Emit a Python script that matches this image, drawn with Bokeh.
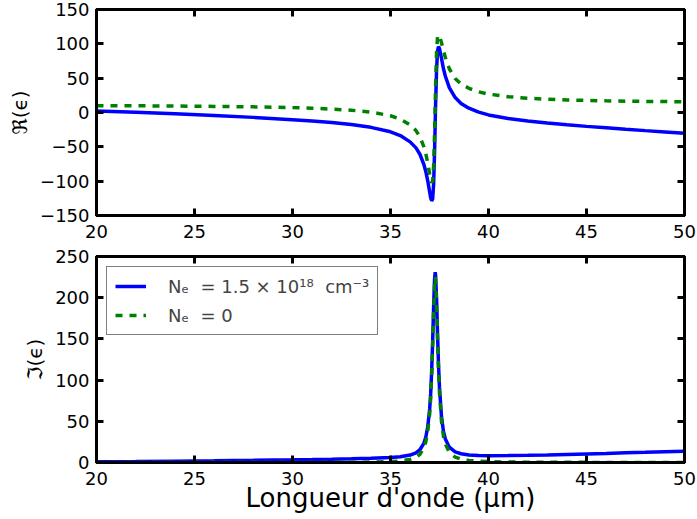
from bokeh.plotting import figure
from bokeh.layouts import column
from bokeh.models import (Range1d, LinearAxis, SingleIntervalTicker, CustomJSTickFormatter,
                          Legend, LegendItem)
from bokeh.embed import file_html
from bokeh.resources import INLINE

# wavelength (µm)
wavelength = [20, 22, 24, 26, 28, 30, 31, 32, 33, 34, 35, 35.5, 36, 36.3, 36.5, 36.7, 36.8, 36.9,
              37.0, 37.05, 37.1, 37.15, 37.2, 37.25, 37.28, 37.3, 37.35, 37.4, 37.45, 37.5,
              37.6, 37.7, 37.8, 38.0, 38.3, 38.6, 39.0, 39.5, 40, 41, 42, 43, 44, 45, 46, 47, 48, 49, 50]

# Re(eps), doped (Ne = 1.5e18 cm^-3)
re_doped = [2.2, 0.3, -1.9, -4.3, -7.1, -10.4, -12.4, -14.7, -17.6, -21.6, -28.1, -33.6, -42.8, -51.5,
            -60.8, -75.4, -85.8, -99.5, -116.2, -124.3, -128.5, -126.2, -104.3, -55.6, -15.6, 10.4,
            62.0, 90.0, 96.0, 93.0, 79.0, 64.0, 52.8, 36.2, 21.7, 13.2, 6.3, 0.5, -3.5, -8.7, -12.4,
            -15.4, -17.9, -20.2, -22.3, -24.4, -26.4, -28.3, -30.3]
# Re(eps), undoped (Ne = 0)
re_undoped = [10.0, 9.8, 9.4, 8.9, 8.2, 7.1, 6.2, 5.0, 3.3, 0.6, -4.7, -9.5, -18.0, -26.3, -35.4,
              -49.7, -60.0, -73.6, -90.1, -98.1, -102.0, -99.9, -77.9, -29.2, 10.9, 36.9, 88.0,
              110.0, 113.0, 111.0, 102.0, 90.0, 80.0, 63.7, 49.6, 41.5, 35.2, 30.1, 26.8, 23.0,
              20.8, 19.3, 18.3, 17.6, 17.0, 16.5, 16.2, 15.9, 15.6]
# Im(eps), doped
im_doped = [0.95, 1.27, 1.64, 2.08, 2.60, 3.22, 3.57, 3.96, 4.43, 5.04, 6.05, 7.03, 9.05, 11.8, 15.5,
            23.3, 30.6, 43.3, 65.3, 83.8, 110.8, 146.8, 188.8, 222.8, 231.0, 227.8, 198.8, 155.8,
            118.8, 90.8, 56.1, 38.1, 28.5, 18.6, 12.9, 10.6, 9.2, 8.5, 8.3, 8.4, 8.7, 9.2, 9.8,
            10.4, 11.0, 11.7, 12.3, 13.1, 13.8]
# Im(eps), undoped
im_undoped = [0.01, 0.01, 0.01, 0.02, 0.04, 0.08, 0.12, 0.17, 0.28, 0.51, 1.12, 1.89, 3.70, 6.34,
              9.96, 17.6, 24.9, 37.6, 59.5, 78.0, 105.0, 141.0, 183.0, 217.0, 225.0, 222.0, 193.0,
              150.0, 113.0, 85.0, 50.3, 32.3, 22.3, 12.3, 6.5, 4.0, 2.44, 1.50, 1.03, 0.58, 0.38,
              0.27, 0.20, 0.16, 0.13, 0.11, 0.09, 0.08, 0.07]

label_doped = "Nₑ  = 1.5 × 10¹⁸  cm⁻³"
label_undoped = "Nₑ  = 0"
xlabel = "Longueur d'onde (μm)"
ylabel_top = "ℜ(ϵ)"
ylabel_bottom = "ℑ(ϵ)"

FONT = "DejaVu Sans"
BLUE = "#0000ff"
GREEN = "#008000"

minus_fmt = CustomJSTickFormatter(code="return tick < 0 ? '\u2212' + Math.abs(tick) : '' + tick;")


def style(p, yint, show_xlabel):
    p.outline_line_color = "black"
    p.outline_line_width = 3
    p.xgrid.visible = False
    p.ygrid.visible = False
    p.background_fill_color = "white"
    p.border_fill_color = "white"
    p.xaxis.ticker = SingleIntervalTicker(interval=5)
    p.yaxis.ticker = SingleIntervalTicker(interval=yint)
    for ax in list(p.xaxis) + list(p.yaxis):
        ax.formatter = minus_fmt
        ax.axis_line_width = 3
        ax.major_tick_in = 7
        ax.major_tick_out = 0
        ax.major_tick_line_width = 3
        ax.minor_tick_line_color = None
        ax.major_label_text_font = FONT
        ax.major_label_text_font_size = "18px"
        ax.major_label_text_color = "black"
        ax.axis_label_text_font = FONT
        ax.axis_label_text_font_style = "normal"
        ax.axis_label_text_color = "black"
    p.yaxis.major_label_standoff = 3
    p.xaxis.major_label_standoff = 5
    p.yaxis.axis_label_text_font_size = "20px"
    p.yaxis.axis_label_standoff = 5
    if show_xlabel:
        p.xaxis.axis_label = xlabel
        p.xaxis.axis_label_text_font_size = "26px"
        p.xaxis.axis_label_standoff = -5
    blank = CustomJSTickFormatter(code="return '';")
    r = LinearAxis(ticker=SingleIntervalTicker(interval=yint), formatter=blank,
                   axis_line_width=3, major_tick_in=7, major_tick_out=0,
                   major_tick_line_width=3, minor_tick_line_color=None,
                   major_label_standoff=0, major_label_text_font_size="0px")
    t = LinearAxis(ticker=SingleIntervalTicker(interval=5), formatter=blank,
                   axis_line_width=3, major_tick_in=7, major_tick_out=0,
                   major_tick_line_width=3, minor_tick_line_color=None,
                   major_label_standoff=0, major_label_text_font_size="0px")
    p.add_layout(r, "right")
    p.add_layout(t, "above")


p1 = figure(width=696, height=242, frame_width=588, frame_height=206,
            output_backend="svg", toolbar_location=None,
            x_range=Range1d(20, 50), y_range=Range1d(-150, 150),
            min_border_left=96, min_border_right=12, min_border_top=9, min_border_bottom=27)
p1.line(wavelength, re_doped, line_color=BLUE, line_width=3.5)
p1.line(wavelength, re_undoped, line_color=GREEN, line_width=3.5, line_dash="7 7")
p1.yaxis.axis_label = ylabel_top
style(p1, 50, False)

p2 = figure(width=696, height=273, frame_width=588, frame_height=206,
            output_backend="svg", toolbar_location=None,
            x_range=Range1d(20, 50), y_range=Range1d(0, 250),
            min_border_left=96, min_border_right=12, min_border_top=14, min_border_bottom=53)
r1 = p2.line(wavelength, im_doped, line_color=BLUE, line_width=3.5)
r2 = p2.line(wavelength, im_undoped, line_color=GREEN, line_width=3.5, line_dash="7 7")
p2.yaxis.axis_label = ylabel_bottom
style(p2, 50, True)

legend = Legend(items=[LegendItem(label=label_doped, renderers=[r1]),
                       LegendItem(label=label_undoped, renderers=[r2])],
                location="top_left", margin=10, padding=8, spacing=7,
                glyph_width=31, glyph_height=22, label_height=22, label_standoff=22,
                label_text_font=FONT, label_text_font_size="18px",
                border_line_color="black", border_line_width=1,
                background_fill_alpha=1.0)
p2.add_layout(legend, "center")

layout = column(p1, p2, spacing=0)
open("out.html", "w").write(file_html(layout, INLINE))
